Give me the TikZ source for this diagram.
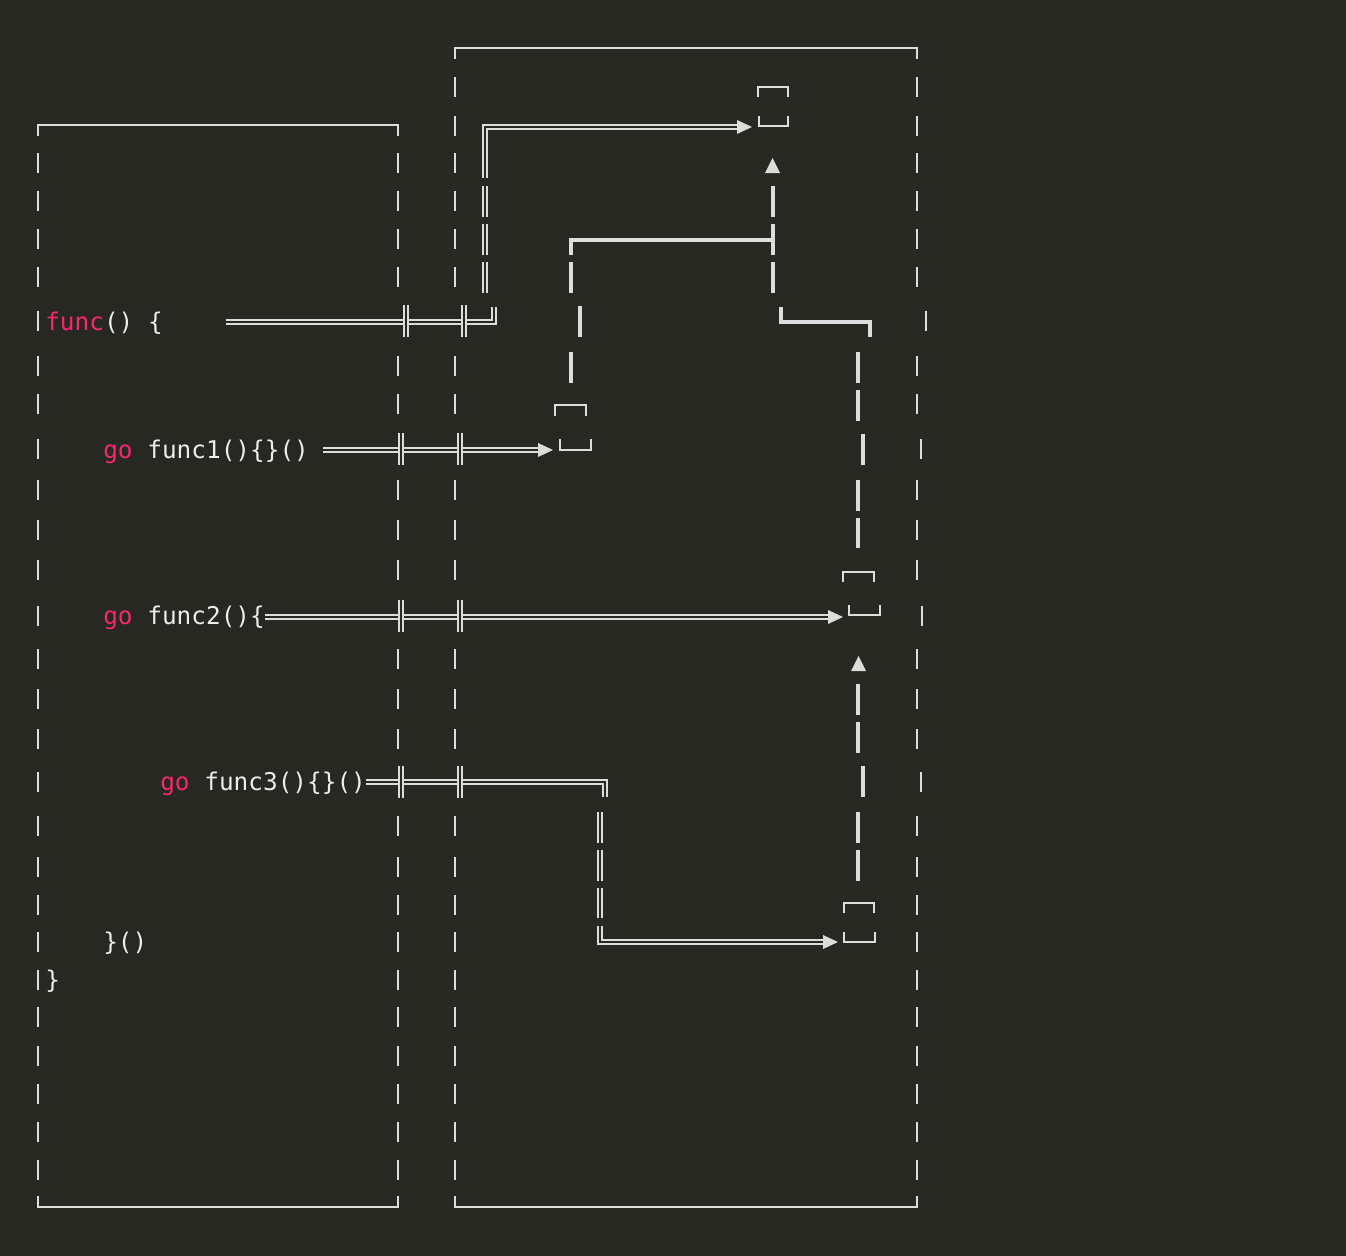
\documentclass[tikz,border=0pt]{standalone}
\usepackage{fontspec}
\setmonofont{DejaVu Sans Mono}
\definecolor{bgc}{HTML}{272822}
\definecolor{lc}{HTML}{DCDCDC}
\definecolor{txt}{HTML}{ECECEC}
\definecolor{kw}{HTML}{F92672}
\begin{document}
\begin{tikzpicture}[x=0.75pt,y=-0.75pt,
  boxline/.style={draw=lc,line width=1.5pt},
  heavy/.style={draw=lc,line width=3pt},
  dbl/.style={draw=lc,line width=1.35pt,double=bgc,double distance=1.6pt},
  tiphead/.style={fill=lc},
  code/.style={anchor=base west,inner sep=0pt,text=txt,font=\fontsize{18.3}{20}\selectfont\ttfamily}]
\fill[bgc] (0,0) rectangle (1346,1256);
\useasboundingbox (0,0) rectangle (1346,1256);

% ---------- left box ----------
\draw[boxline] (38,136)--(38,125)--(398,125)--(398,136);
\draw[boxline] (38,1196)--(38,1207)--(398,1207)--(398,1196);
\foreach \r in {163,201,239,277,321,366,404,449,490,530,570,616,659,699,739,782,826,867,905,942,980,1017,1056,1094,1132,1170}
  \draw[boxline] (38,\r-10)--(38,\r+10);
\foreach \r in {163,201,239,277,366,404,490,530,570,659,699,739,826,867,905,942,980,1017,1056,1094,1132,1170}
  \draw[boxline] (398,\r-10)--(398,\r+10);

% ---------- right box ----------
\draw[boxline] (455,59)--(455,48)--(917,48)--(917,59);
\draw[boxline] (455,1196)--(455,1207)--(917,1207)--(917,1196);
\foreach \r in {87,126,163,201,239,277,366,404,490,530,570,659,699,739,826,867,905,942,980,1017,1056,1094,1132,1170}
  {\draw[boxline] (455,\r-10)--(455,\r+10);
   \draw[boxline] (917,\r-10)--(917,\r+10);}
\foreach \x/\r in {926/321,921/449,922/616,921/782}
  \draw[boxline] (\x,\r-10)--(\x,\r+10);

% ---------- target boxes ----------
\draw[boxline] (758,97)--(758,87)--(788,87)--(788,97);
\draw[boxline] (759,116)--(759,126)--(788,126)--(788,116);
\draw[boxline] (555,416)--(555,405)--(586,405)--(586,416);
\draw[boxline] (560,439)--(560,450)--(591,450)--(591,439);
\draw[boxline] (843,582)--(843,572)--(874,572)--(874,582);
\draw[boxline] (849,605)--(849,615)--(880,615)--(880,605);
\draw[boxline] (844,913)--(844,903)--(874,903)--(874,913);
\draw[boxline] (844,932)--(844,942)--(875,942)--(875,932);

% ---------- code text ----------
\node[code] (f0) at (45,330) {\textcolor{kw}{func}() \{};
\node[code] (f1) at (103,458) {\textcolor{kw}{go} func1()\{\}()};
\node[code] (f2) at (103,624) {\textcolor{kw}{go} func2()\{};
\node[code] (f3) at (160,790) {\textcolor{kw}{go} func3()\{\}()};
\node[code] (e1) at (103,950) {\}()};
\node[code] (e0) at (45,988) {\}};

% ---------- double connectors ----------
% func -> top box
\draw[dbl] (226,322)--(494,322)--(494,307);
\foreach \a/\b in {262/293,224/255,186/217}
  \draw[dbl] (485,\a)--(485,\b);
\draw[dbl] (485,178)--(485,127)--(738,127);
\fill[tiphead] (737,120)--(752,127)--(737,134)--cycle;
% func1
\draw[dbl] (323,450)--(539,450);
\fill[tiphead] (538,443)--(553,450)--(538,457)--cycle;
% func2
\draw[dbl] (265,617)--(829,617);
\fill[tiphead] (828,610)--(843,617)--(828,624)--cycle;
% func3
\draw[dbl] (366,782)--(605,782)--(605,797);
\foreach \a/\b in {812/843,850/881,888/918}
  \draw[dbl] (600,\a)--(600,\b);
\draw[dbl] (600,926)--(600,942)--(824,942);
\fill[tiphead] (823,935)--(838,942)--(823,949)--cycle;
% crossings on the box walls
\foreach \x/\r in {406/321,464/321,401/449,460/449,401/616,460/616,401/782,460/782}
  \draw[dbl] (\x,\r-16)--(\x,\r+16);

% ---------- heavy dashed connectors ----------
\draw[heavy] (571,352)--(571,383);
\draw[heavy] (580,306)--(580,337);
\draw[heavy] (571,262)--(571,293);
\draw[heavy] (571,255)--(571,240)--(773,240);
\draw[heavy] (773,224)--(773,255);
\draw[heavy] (773,186)--(773,217);
\fill[tiphead] (765,173)--(772.5,158)--(780,173)--cycle;
\draw[heavy] (773,262)--(773,293);
\draw[heavy] (781,307)--(781,322)--(870,322)--(870,337);
\foreach \x/\a/\b in {858/352/383,858/390/421,863/434/465,858/480/511,858/518/548,
                      858/684/715,858/722/753,863/766/797,858/812/843,858/850/881}
  \draw[heavy] (\x,\a)--(\x,\b);
\fill[tiphead] (851,671)--(858.5,656)--(866,671)--cycle;
\end{tikzpicture}
\end{document}
